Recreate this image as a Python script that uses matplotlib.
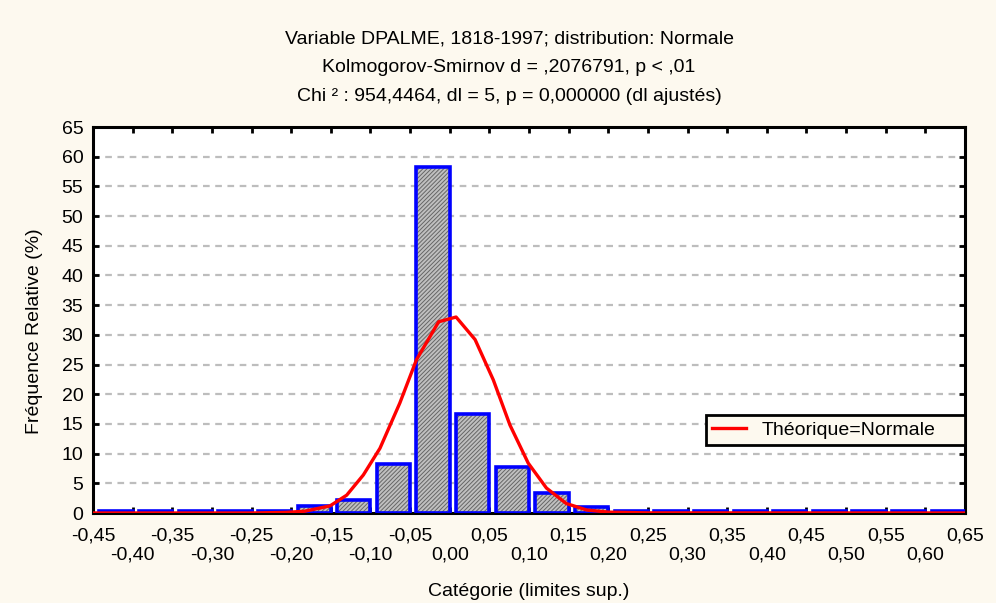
import numpy as np
import matplotlib.pyplot as plt

plt.rcParams['font.family'] = ['Liberation Sans', 'DejaVu Sans']

# histogram: upper limits of classes (width 0.05), relative frequency in %
bin_upper = [-0.40, -0.35, -0.30, -0.25, -0.20, -0.15, -0.10, -0.05, 0.00,
             0.05, 0.10, 0.15, 0.20, 0.25, 0.30, 0.35, 0.40, 0.45, 0.50,
             0.55, 0.60, 0.65]
freq = [0, 0, 0, 0, 0, 1.1, 2.2, 8.3, 58.2, 16.6, 7.8, 3.4, 1.0,
        0, 0, 0, 0, 0, 0, 0, 0, 0]

# theoretical normal curve
curve_x = [-0.45, -0.25, -0.207, -0.183, -0.151, -0.130, -0.109, -0.088, -0.063,
           -0.042, -0.014, 0.008, 0.032, 0.055, 0.076, 0.099, 0.122, 0.147,
           0.173, 0.20, 0.25, 0.65]
curve_y = [0, 0.0, 0.1, 0.3, 1.2, 3.0, 6.4, 10.9, 18.5, 25.8, 32.2, 33.0,
           29.2, 22.4, 14.8, 8.4, 4.2, 1.6, 0.5, 0.15, 0.02, 0]

xticks_top = [-0.45, -0.35, -0.25, -0.15, -0.05, 0.05, 0.15, 0.25, 0.35, 0.45, 0.55, 0.65]
xticks_low = [-0.40, -0.30, -0.20, -0.10, 0.00, 0.10, 0.20, 0.30, 0.40, 0.50, 0.60]
yticks = list(range(0, 70, 5))

title = ('Variable DPALME, 1818-1997; distribution: Normale\n'
         'Kolmogorov-Smirnov d = ,2076791, p < ,01\n'
         'Chi \u00b2 : 954,4464, dl = 5, p = 0,000000 (dl ajust\u00e9s)')


def fmt(v):
    s = ('%.2f' % v).replace('.', ',')
    return '0,00' if s == '-0,00' else s


fs = 14
bg = '#fdf9ef'
fig = plt.figure(figsize=(9.96, 6.03), dpi=100, facecolor=bg)
ax = fig.add_axes([93 / 996, 1 - 513 / 603, 872 / 996, 386 / 603])
ax.set_facecolor('white')

plt.rcParams['hatch.linewidth'] = 0.7
left = np.array(bin_upper) - 0.042
shown = np.maximum(freq, 0.3)   # empty classes still show their outline
ax.bar(left, freq, width=0.042, align='edge', facecolor='#c0c0c0',
       edgecolor='#666666', hatch='////////', linewidth=0, zorder=2)
ax.bar(left, shown, width=0.042, align='edge', fill=False,
       edgecolor='#0000ff', linewidth=2.6, zorder=3)

ax.plot(curve_x, curve_y, color='#ff0000', linewidth=2.4, zorder=4,
        label='Th\u00e9orique=Normale')

ax.set_xlim(-0.45, 0.65)
ax.set_ylim(0, 65)
ax.set_yticks(yticks)
ax.set_yticklabels([str(v) for v in yticks], fontsize=fs)
ax.yaxis.grid(True, color='#bdbdbd', linestyle=(0, (3, 2.5)), linewidth=1.6, zorder=1)
ax.set_axisbelow(True)

# two rows of x labels: major ticks on top row, minor ticks on the lower row
ax.set_xticks(xticks_top)
ax.set_xticklabels([fmt(v) for v in xticks_top], fontsize=fs)
ax.set_xticks(xticks_low, minor=True)
ax.set_xticklabels([fmt(v) for v in xticks_low], minor=True, fontsize=fs)

ax.tick_params(which='both', direction='in', length=4, width=2, top=True, right=True)
ax.tick_params(axis='x', which='major', pad=10.5)
ax.tick_params(axis='x', which='minor', pad=24)
ax.tick_params(axis='y', pad=7)
for sp in ax.spines.values():
    sp.set_linewidth(2.2)

ax.set_xlabel('Cat\u00e9gorie (limites sup.)', fontsize=fs, labelpad=14)
ax.set_ylabel('Fr\u00e9quence Relative (%)', fontsize=fs)
ax.yaxis.set_label_coords(-0.057, 0.47)

fig.text(509 / 996, 1 - 31 / 603, title, ha='center', va='top', fontsize=fs,
         linespacing=1.87)

leg = ax.legend(loc='center right', bbox_to_anchor=(0.703, 0.175, 0.297, 0.08),
                mode='expand', fontsize=fs, frameon=True, fancybox=False,
                borderpad=0.3, borderaxespad=0, handlelength=1.75, handletextpad=0.8)
leg.get_frame().set_edgecolor('black')
leg.get_frame().set_linewidth(2)
leg.get_frame().set_facecolor(bg)
leg.get_frame().set_alpha(1)

fig.savefig('out.png', dpi=100, facecolor=bg)
